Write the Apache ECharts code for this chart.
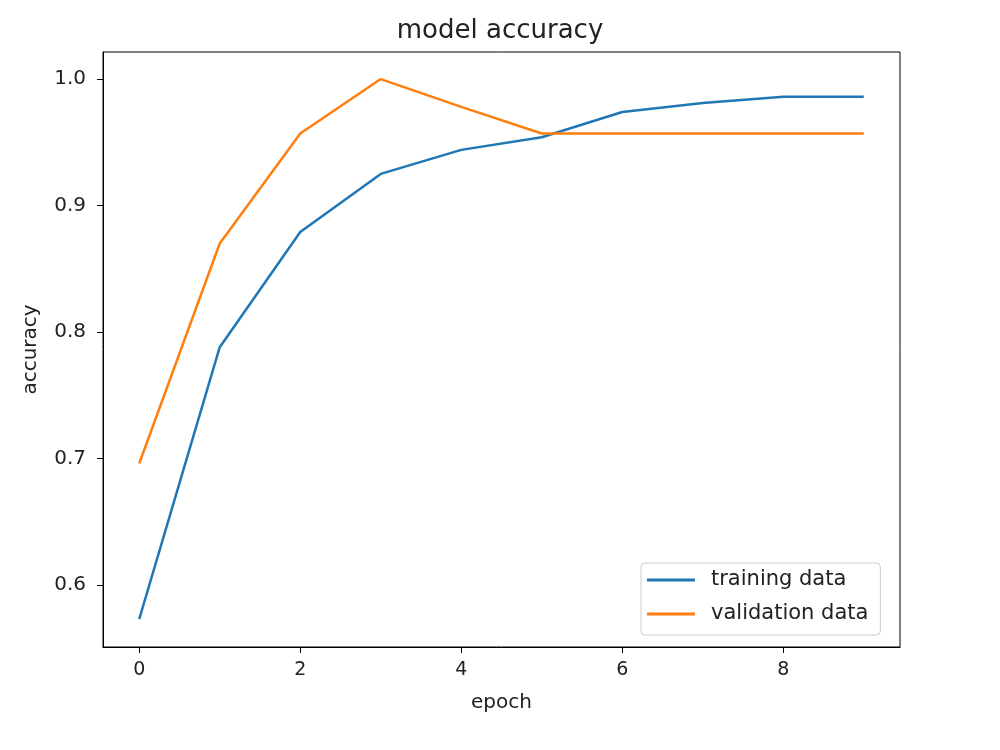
<!DOCTYPE html>
<html>
<head>
<meta charset="utf-8">
<title>model accuracy</title>
<script src="https://cdn.jsdelivr.net/npm/echarts@6/dist/echarts.min.js"></script>
<style>
    html, body { margin: 0; padding: 0; background: #fff; }
    #chart { width: 1000px; height: 750px; }
</style>
</head>
<body>
<div id="chart"></div>
<script>
// values
const epochs = [0, 1, 2, 3, 4, 5, 6, 7, 8, 9]
const trainingAcc = [0.573, 0.788, 0.879, 0.925, 0.944, 0.954, 0.974, 0.981, 0.986, 0.986]
const validationAcc = [0.696, 0.870, 0.957, 1.0, 0.978, 0.957, 0.957, 0.957, 0.957, 0.957]
const xTicks = [0, 2, 4, 6, 8]
const yTicks = [0.6, 0.7, 0.8, 0.9, 1.0]

const font = 'DejaVu Sans'
const ink = '#222'

const chart = echarts.init(document.getElementById('chart'))

chart.setOption({
    animation: false,
    title: {
        text: 'model accuracy',
        left: 'center',
        top: 13,
        textStyle: { fontFamily: font, fontSize: 26, fontWeight: 'normal', color: ink }
    },
    legend: {
        orient: 'vertical',
        left: 641,
        top: 563,
        padding: [6, 12, 10, 6],
        itemGap: 12,
        itemWidth: 48,
        itemHeight: 3,
        icon: 'rect',
        borderColor: '#ccc',
        borderWidth: 1,
        borderRadius: 4,
        textStyle: { fontFamily: font, fontSize: 21, color: ink, lineHeight: 22, padding: [0, 0, 0, 11] },
        data: ['training data', 'validation data']
    },
    grid: {
        left: 103, right: 100, top: 52, bottom: 103,
        show: true,
        borderColor: '#000',
        borderWidth: 1
    },
    xAxis: {
        type: 'value',
        min: -0.45,
        max: 9.45,
        name: 'epoch',
        nameLocation: 'middle',
        nameGap: 46,
        nameTextStyle: { fontFamily: font, fontSize: 20, color: ink },
        axisLine: { show: true, onZero: false, lineStyle: { color: '#000', width: 1 } },
        axisTick: { show: true, length: 6, customValues: xTicks, lineStyle: { color: '#000' } },
        axisLabel: { customValues: xTicks, margin: 14, fontFamily: font, fontSize: 19, color: ink },
        splitLine: { show: false }
    },
    yAxis: {
        type: 'value',
        min: 0.5509,
        max: 1.0214,
        name: 'accuracy',
        nameLocation: 'middle',
        nameRotate: 90,
        nameGap: 62,
        nameTextStyle: { fontFamily: font, fontSize: 20, color: ink },
        axisLine: { show: true, onZero: false, lineStyle: { color: '#000', width: 1 } },
        axisTick: { show: true, length: 6, customValues: yTicks, lineStyle: { color: '#000' } },
        axisLabel: {
            customValues: yTicks,
            margin: 17,
            fontFamily: font, fontSize: 20, color: ink,
            formatter: v => v.toFixed(1)
        },
        splitLine: { show: false }
    },
    series: [
        {
            name: 'training data',
            type: 'line',
            symbol: 'none',
            color: '#1f77b4',
            lineStyle: { width: 2.5 },
            data: epochs.map((e, i) => [e, trainingAcc[i]])
        },
        {
            name: 'validation data',
            type: 'line',
            symbol: 'none',
            color: '#ff7f0e',
            lineStyle: { width: 2.5 },
            data: epochs.map((e, i) => [e, validationAcc[i]])
        }
    ]
})
</script>
</body>
</html>
